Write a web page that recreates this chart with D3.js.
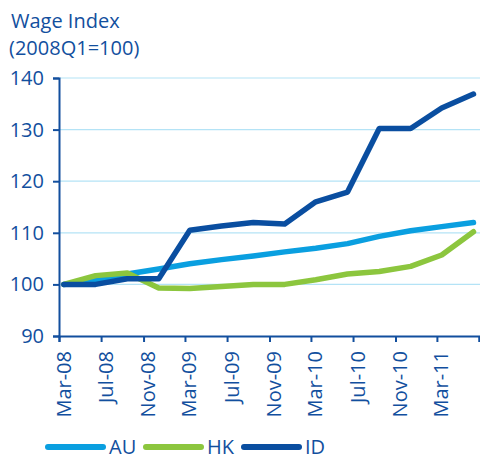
<!DOCTYPE html>
<html>
<head>
<meta charset="utf-8">
<script src="https://cdn.jsdelivr.net/npm/d3@7"></script>
<style>
  body { margin: 0; background: #fff; }
  svg { display: block; }
</style>
</head>
<body>
<div id="chart"></div>
<script>
// quarterly observations, 2008Q1 .. 2011Q2
const quarters = ["2008-03", "2008-06", "2008-09", "2008-12", "2009-03", "2009-06", "2009-09",
  "2009-12", "2010-03", "2010-06", "2010-09", "2010-12", "2011-03", "2011-06"];
const au = [100, 100.8, 102.0, 103.0, 104.0, 104.8, 105.5, 106.3, 107.0, 107.9, 109.3, 110.4, 111.2, 112.0];
const hk = [100, 101.7, 102.2, 99.3, 99.2, 99.6, 100.0, 100.0, 100.9, 102.0, 102.5, 103.5, 105.7, 110.2];
const id = [100, 100.0, 101.1, 101.1, 110.5, 111.3, 112.0, 111.7, 116.0, 117.9, 130.2, 130.2, 134.2, 136.9];
const yTicks = [90, 100, 110, 120, 130, 140];
const xTickLabels = ["Mar-08", "Jul-08", "Nov-08", "Mar-09", "Jul-09", "Nov-09", "Mar-10", "Jul-10", "Nov-10", "Mar-11"];

const series = [
  { name: "AU", values: au, color: "#0a9fe0" },
  { name: "HK", values: hk, color: "#8cc63e" },
  { name: "ID", values: id, color: "#0a4ea0" }
];

const width = 480, height = 459;
const margin = { top: 78, right: 1, bottom: 123, left: 59 };
const textColor = "#124f9e";
const font = "'Open Sans', sans-serif";
const fs = 20, fw = 500;

const parse = d3.timeParse("%Y-%m-%d");
// points sit mid-month, ticks at month starts
const dates = quarters.map(q => parse(q + "-15"));

const x = d3.scaleTime()
  .domain([parse("2008-03-01"), parse("2011-07-01")])
  .range([margin.left, width - margin.right]);

const y = d3.scaleLinear()
  .domain([90, 140])
  .range([height - margin.bottom, margin.top]);

const svg = d3.select("#chart").append("svg")
  .attr("width", width)
  .attr("height", height)
  .attr("font-family", font)
  .attr("font-weight", fw);

// title
svg.append("text").attr("x", 11).attr("y", 28)
  .attr("fill", textColor).attr("font-size", fs).text("Wage Index");
svg.append("text").attr("x", 9).attr("y", 55)
  .attr("fill", textColor).attr("font-size", fs).text("(2008Q1=100)");

// grid
svg.append("g")
  .selectAll("line")
  .data(yTicks.filter(d => d > 90))
  .join("line")
  .attr("x1", margin.left).attr("x2", width)
  .attr("y1", d => y(d)).attr("y2", d => y(d))
  .attr("stroke", "#b4e3f6").attr("stroke-width", 1.2);

// y axis
const yAxis = svg.append("g")
  .attr("transform", `translate(${margin.left},0)`)
  .call(d3.axisLeft(y).tickValues(yTicks).tickSize(6).tickPadding(9));
yAxis.select(".domain").attr("stroke", textColor).attr("stroke-width", 2);
yAxis.selectAll(".tick line").attr("stroke", textColor).attr("stroke-width", 2);
yAxis.selectAll(".tick text")
  .attr("fill", textColor).attr("font-size", fs).attr("font-family", font).attr("font-weight", fw);

// x axis
const tickDates = d3.range(0, 44, 4).map(m => d3.timeMonth.offset(parse("2008-03-01"), m));
const xAxis = svg.append("g")
  .attr("transform", `translate(0,${height - margin.bottom})`)
  .call(d3.axisBottom(x).tickValues(tickDates).tickSize(6)
    .tickFormat((d, i) => xTickLabels[i] || ""));
xAxis.select(".domain").attr("stroke", textColor).attr("stroke-width", 2);
xAxis.selectAll(".tick line").attr("stroke", textColor).attr("stroke-width", 2);
xAxis.selectAll(".tick text")
  .attr("fill", textColor).attr("font-size", fs).attr("font-family", font).attr("font-weight", fw)
  .attr("text-anchor", "end")
  .attr("transform", "rotate(-90)")
  .attr("x", -15).attr("y", 4).attr("dy", "0.35em");

// lines
const line = d3.line()
  .x((d, i) => x(dates[i]))
  .y(d => y(d));

svg.append("g")
  .selectAll("path")
  .data(series)
  .join("path")
  .attr("d", s => line(s.values))
  .attr("fill", "none")
  .attr("stroke", s => s.color)
  .attr("stroke-width", 5.5)
  .attr("stroke-linejoin", "round")
  .attr("stroke-linecap", "round");

// legend
const legend = svg.append("g").attr("transform", "translate(48,447)");
const item = legend.selectAll("g")
  .data(series)
  .join("g")
  .attr("transform", (d, i) => `translate(${i * 98},0)`);
item.append("line")
  .attr("x1", 0).attr("x2", 55)
  .attr("stroke", d => d.color).attr("stroke-width", 6)
  .attr("stroke-linecap", "round");
item.append("text")
  .attr("x", 61).attr("dy", "0.35em")
  .attr("fill", textColor).attr("font-size", fs)
  .text(d => d.name);
</script>
</body>
</html>
